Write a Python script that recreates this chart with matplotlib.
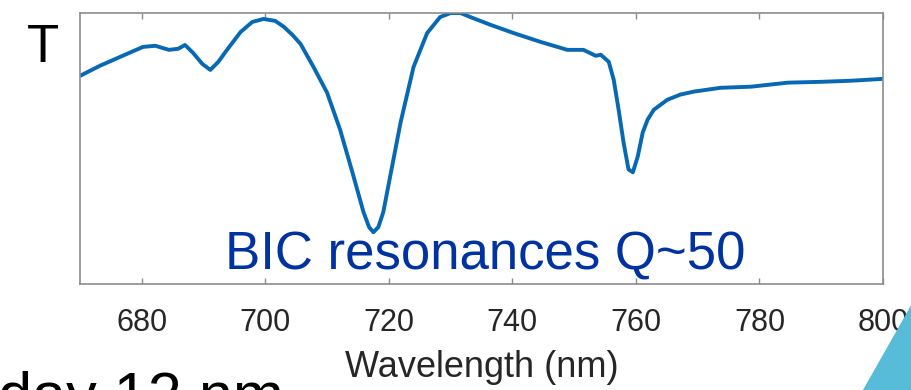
import matplotlib
matplotlib.use("Agg")
import matplotlib.pyplot as plt
from matplotlib.patches import Polygon

plt.rcParams['font.family'] = ['Liberation Sans', 'DejaVu Sans']

# Data (transmission, arbitrary units)
wavelength_nm = [670.0, 673.2, 676.5, 680.2, 682.2, 684.4, 685.9, 687.0, 688.3, 689.8,
                 691.1, 692.4, 693.8, 696.0, 697.9, 699.7, 701.6, 703.0, 704.4, 705.7,
                 707.8, 710.0, 712.1, 714.1, 715.9, 716.8, 717.5, 718.3, 719.1, 719.9,
                 720.9, 721.9, 724.0, 726.2, 728.3, 730.0, 731.6, 733.2, 736.5, 740.2,
                 744.6, 748.9, 751.5, 753.5, 754.3, 755.6, 756.4, 757.2, 758.0, 758.8,
                 759.5, 760.3, 761.1, 761.9, 762.9, 765.1, 767.2, 769.4, 773.7, 778.6,
                 784.6, 789.9, 794.8, 800.0]
transmission = [0.768, 0.805, 0.838, 0.875, 0.879, 0.864, 0.868, 0.882, 0.853, 0.812,
                0.790, 0.820, 0.864, 0.930, 0.967, 0.978, 0.971, 0.949, 0.919, 0.886,
                0.801, 0.706, 0.570, 0.412, 0.265, 0.210, 0.191, 0.210, 0.265, 0.360,
                0.478, 0.596, 0.801, 0.926, 0.985, 1.000, 1.000, 0.985, 0.956, 0.926,
                0.893, 0.864, 0.864, 0.842, 0.846, 0.820, 0.754, 0.643, 0.522, 0.423,
                0.412, 0.471, 0.559, 0.607, 0.643, 0.680, 0.699, 0.710, 0.724, 0.728,
                0.743, 0.746, 0.750, 0.757]
xticks = [680, 700, 720, 740, 760, 780, 800]

W, H = 912, 390
fig = plt.figure(figsize=(W / 100, H / 100), dpi=100)
fig.patch.set_facecolor('white')

ax = fig.add_axes([80 / W, (H - 284) / H, (883 - 80) / W, (284 - 13) / H])
ax.plot(wavelength_nm, transmission, color='#0768b4', lw=2.8,
        solid_capstyle='round', solid_joinstyle='round')
ax.set_xlim(670, 800)
ax.set_ylim(0, 1.0)
ax.set_xticks(xticks)
ax.set_xticklabels([str(t) for t in xticks])
ax.set_yticks([])
ax.tick_params(axis='x', direction='in', top=True, length=4, width=1,
               color='#8c8c8c', labelsize=22, labelcolor='#262626', pad=17)
for s in ax.spines.values():
    s.set_color('#8c8c8c')
    s.set_linewidth(1.2)
ax.set_xlabel('Wavelength (nm)', fontsize=26, color='#262626', labelpad=9)

ax.text((225 - 80) / (883 - 80), (284 - 270) / (284 - 13), 'BIC resonances Q~50',
        transform=ax.transAxes, fontsize=38, color='#0033a0', ha='left', va='baseline')

fig.text(27 / W, (H - 62) / H, 'T', fontsize=38, color='black', ha='left', va='baseline')
fig.text(-2 / W, (H - 415) / H, 'day 12 nm', fontsize=44, color='black',
         ha='left', va='baseline')

tri = Polygon([[863 / W, 0], [(912 + 2) / W, (H - 300) / H], [(912 + 2) / W, 0]],
              closed=True, transform=fig.transFigure, facecolor='#57bcd8',
              edgecolor='none')
fig.patches.append(tri)

fig.savefig('out.png', dpi=100, facecolor='white')
